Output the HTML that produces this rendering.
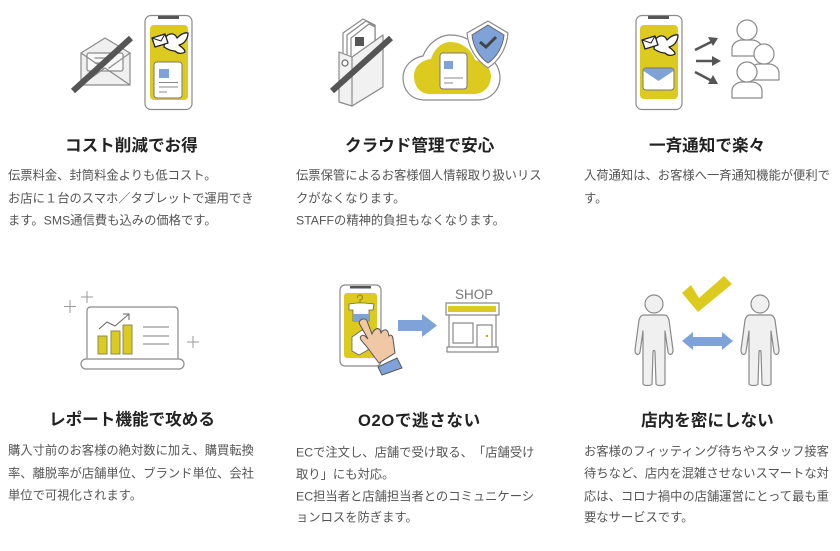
<!DOCTYPE html>
<html lang="ja"><head><meta charset="utf-8"><title>機能</title>
<style>
html,body{margin:0;padding:0;background:#fff}
svg{display:block}
text{font-family:"Liberation Sans","Noto Sans CJK JP",sans-serif;text-spacing-trim:space-all;font-feature-settings:"palt" 0}
.t{font-size:16.6px;font-weight:700;fill:#222}
.b{font-size:12.3px;fill:#555}
.o{stroke:#8a8a8a;stroke-width:1.2;stroke-linejoin:round;stroke-linecap:round}
.y{fill:#dccb1e}.bl{fill:#7fa3d9}
</style></head><body>
<svg width="840" height="551" viewBox="0 0 840 551" xmlns="http://www.w3.org/2000/svg">
<defs>
<g id="bird">
<path d="M165,38 C169,32 175,33 177,38 C180,35 184,32 188,33 C188,39 184,44 179,45 C181,47 185,49 185,52 C182,54 178,54 175,51 C171,51 167,49 164,47 Z" fill="#fff" stroke="#222" stroke-width="1.300" stroke-linejoin="round"/>
<path d="M152,38 L165,34 L168,43 L155,47 Z" fill="#fff" stroke="#222" stroke-width="1.300" stroke-linejoin="round"/>
<path d="M152,38 L161,41 L165,34" fill="none" stroke="#222" stroke-width="1"/>
</g>
<path id="person" d="M-10,315 C-13,315 -14,317 -15,320 L-19,350 C-19,355 -15,356 -14,352 L-11,331 L-11,384 C-10,386 -3,386 -2,384 L-1,352 C-1,350 1,350 1,352 L2,384 C3,386 10,386 11,384 L11,331 L14,352 C15,356 19,355 19,350 L15,320 C14,317 13,315 10,315 Z"/>
<path id="bust" d="M-15,16 L-15,9 C-15,3 -9,0 -5,0 L5,0 C9,0 15,3 15,9 L15,16 Z" fill="#fff" class="o"/>
</defs>

<!-- Icon 1 -->
<g class="o" fill="#efefef">
<path d="M81,53 L105,38 L130,53 L130,85 L81,85 Z" fill="#f0f0f0"/>
<rect x="87" y="53" width="36" height="18" rx="2" fill="#f8f8f8"/>
<path d="M81,85 L105,68 L130,85 M81,53 L103,68 M130,53 L109,68" fill="none"/>
<path d="M95,58 H113 M95,63 H106" fill="none"/>
</g>
<line x1="73" y1="91" x2="131" y2="38" stroke="#555" stroke-width="6"/>
<rect x="145" y="15.500" width="47" height="94" rx="6" fill="#fff" class="o"/>
<rect x="158" y="16" width="21" height="3" fill="#555"/>
<rect x="150" y="25" width="38" height="75" rx="4" class="y"/>
<use href="#bird"/>
<rect x="154" y="62" width="28" height="36" rx="3" fill="#fff" stroke="#777" stroke-width="1"/>
<rect x="159" y="69" width="10" height="9" class="bl"/>
<path d="M159,82.500 H178 M159,87 H178 M159,92 H167" stroke="#888" stroke-width="1"/>

<!-- Icon 2 -->
<g class="o" fill="#fff">
<path d="M343,33 L363,19 L375,25 L375,50 L343,70 Z"/>
<path d="M347,35 L366,21 L375,26 L375,50 L347,70 Z"/>
<path d="M351,38 L369,24 L375,27 L375,50 L351,70 Z"/>
<path d="M339,52 L352,57 L383,35 L383,87 L352,106 L339,102 Z" fill="#f1f1f1"/>
<path d="M352,57 L352,106" fill="none"/>
</g>
<rect x="355" y="37" width="9" height="9" fill="#555"/>
<circle cx="345" cy="63" r="3" fill="#fff" stroke="#666" stroke-width="1.200"/>
<line x1="332" y1="91" x2="391" y2="38" stroke="#555" stroke-width="6"/>
<path d="M425,100 C411,100 403,90 403,78 C403,66 412,58 423,56 C428,43 440,35 450,35 C465,35 475,42 480,52 C492,56 500,66 500,78 C500,90 490,100 478,100 Z" fill="#fff" class="o"/>
<path d="M430,94 C420,94 414,86 414,76 C414,66 422,60 431,59 C434,49 442,42 450,42 C462,42 472,50 475,60 C484,62 491,68 491,76 C491,86 484,94 474,94 Z" class="y"/>
<rect x="440" y="53" width="27" height="36" rx="3" fill="#fff" stroke="#777" stroke-width="1"/>
<rect x="444" y="61" width="9" height="8" class="bl"/>
<path d="M444,78 H463 M444,83 H453" stroke="#888" stroke-width="1"/>
<path d="M488,21 L508,33 C507,47 500,60 488,68 C476,60 468,47 467,33 Z" fill="#fff" class="o"/>
<path d="M488,25 L504,35 C503,46 497,57 488,63 C479,57 473,46 472,35 Z" class="bl" stroke="#666" stroke-width="1"/>
<path d="M480,42 L486,47 L496,37" fill="none" stroke="#444" stroke-width="3"/>

<!-- Icon 3 -->
<rect x="636" y="15.500" width="46" height="94" rx="6" fill="#fff" class="o"/>
<rect x="648" y="16" width="21" height="3" fill="#555"/>
<rect x="640" y="25" width="38" height="74" rx="4" class="y"/>
<use href="#bird" transform="translate(490,2)"/>
<rect x="643" y="68" width="31" height="22" rx="3" fill="#fff" stroke="#777" stroke-width="1"/>
<path d="M643.500,71 C643.500,69 645,68.500 646,68.500 H671 C672,68.500 673.500,69 673.500,71 L658.500,81 Z" class="bl"/>
<g stroke="#555" stroke-width="2.500" fill="none"><path d="M695,50 L713,41"/><path d="M696,61 L715,61"/><path d="M695,72 L712,81"/></g>
<g fill="#555"><path d="M718,38 L708,37 L713,46 Z"/><path d="M721,61 L712,56 L712,66 Z"/><path d="M718,84 L713,75 L708,84 Z"/></g>
<use href="#bust" x="747" y="40"/>
<circle cx="747" cy="30" r="10" fill="#fff" class="o"/>
<use href="#bust" x="764" y="64"/>
<circle cx="764" cy="54" r="10" fill="#fff" class="o"/>
<use href="#bust" x="747" y="82"/>
<circle cx="747" cy="72" r="10" fill="#fff" class="o"/>

<!-- Icon 4 -->
<path d="M87,358 V311 Q87,307 91,307 H174 Q178,307 178,311 V358" fill="#fff" class="o"/>
<rect x="81" y="359" width="103" height="10" rx="5" fill="#fff" class="o"/>
<g class="y" stroke="#8a8a60" stroke-width="1"><rect x="98" y="336" width="9" height="18"/><rect x="111" y="331" width="9" height="23"/><rect x="123" y="325" width="9" height="29"/></g>
<path d="M99,329 L107,322 L115,326 L129,314 M123,314 H129 V320" fill="none" stroke="#666" stroke-width="1"/>
<path d="M143,327 H169 M143,336 H169 M143,344 H169" stroke="#999" stroke-width="1.200"/>
<path d="M64,306.500 H76 M70,300 V313 M81,297 H93 M87,291 V303 M187,342 H199 M193,336 V348" stroke="#999" stroke-width="1"/>

<!-- Icon 5 -->
<rect x="340" y="285" width="41" height="81" rx="5" fill="#fff" class="o"/>
<rect x="350" y="286" width="21" height="2.500" fill="#555"/>
<rect x="344" y="293" width="33" height="65" rx="3" class="y"/>
<path d="M349,304 L357,303 H364 L374,304 L373,310 L369,310 V321 H353 V310 L349,310 Z" fill="#fff" stroke="#666" stroke-width=".8"/>
<rect x="353" y="314" width="16" height="7" class="bl"/>
<path d="M360,303 V300 A2.500,2.500 0 1 0 357.500,298" fill="none" stroke="#8a8410" stroke-width="1"/>
<path d="M352,337 L362,330 L368,334 V350 L359,355 L352,351 Z" fill="#fff" stroke="#666" stroke-width=".8"/>
<path d="M359,323 C360,318 366,318 367,321 L372,334 C374,329 378,327 380,330 L381,333 C383,329 387,329 388,332 L389,336 C391,334 393,336 393,339 L395,353 L379,363 C375,358 371,352 367,347 L361,340 C359,337 362,334 365,336 L368,339 Z" fill="#f1c8a6" stroke="#555" stroke-width="1"/>
<path d="M378,367 L397,358 L402,368 L382,375 Z" class="bl" stroke="#555" stroke-width="1"/>
<path d="M398,320 H422 V314 L437,325.500 L422,337 V331 H398 Z" class="bl"/>
<text x="455" y="299" style="font-size:13.500px;fill:#777">SHOP</text>
<rect x="446" y="303" width="53" height="12" fill="#fff" class="o"/>
<rect x="448" y="306" width="48" height="6" class="y"/>
<path d="M449,315 V347 M496,315 V347" class="o"/>
<rect x="447" y="347" width="51" height="5" fill="#fff" class="o"/>
<rect x="453" y="323" width="20" height="20" fill="#fff" class="o"/>
<rect x="477" y="325" width="15" height="22" fill="#fff" class="o"/>
<circle cx="487" cy="336" r="1.200" fill="#b9b214"/>

<!-- Icon 6 -->
<circle cx="654" cy="304" r="9" fill="#f0f0f0" class="o"/>
<use href="#person" x="654" fill="#f0f0f0" class="o"/>
<circle cx="760" cy="304" r="9" fill="#f0f0f0" class="o"/>
<use href="#person" x="760" fill="#f0f0f0" class="o"/>
<path d="M682,293 L691,285 L699,298 L724,276 L732,284 L698,312 Z" class="y"/>
<path d="M682,341 L693,332 V337 H722 V332 L733,341 L722,350 V346 H693 V350 Z" class="bl"/>

<!-- Titles -->
<text class="t" x="65" y="151">コスト削減でお得</text>
<text class="t" x="345" y="151">クラウド管理で安心</text>
<text class="t" x="649" y="151">一斉通知で楽々</text>
<text class="t" x="49" y="425">レポート機能で攻める</text>
<text class="t" x="358" y="426" letter-spacing=".6">O2Oで逃さない</text>
<text class="t" x="641" y="426">店内を密にしない</text>

<!-- Bodies -->
<text class="b" x="8" y="179.500">伝票料金、封筒料金よりも低コスト。</text>
<text class="b" x="8" y="202.500">お店に１台のスマホ／タブレットで運用でき</text>
<text class="b" x="8" y="224.500">ます。SMS通信費も込みの価格です。</text>

<text class="b" x="296" y="179.500">伝票保管によるお客様個人情報取り扱いリス</text>
<text class="b" x="296" y="202.500">クがなくなります。</text>
<text class="b" x="296" y="224.500">STAFFの精神的負担もなくなります。</text>

<text class="b" x="584" y="179.500">入荷通知は、お客様へ一斉通知機能が便利で</text>
<text class="b" x="584" y="202.500">す。</text>

<text class="b" x="8" y="454.500">購入寸前のお客様の絶対数に加え、購買転換</text>
<text class="b" x="8" y="477.500">率、離脱率が店舗単位、ブランド単位、会社</text>
<text class="b" x="8" y="499.500">単位で可視化されます。</text>

<text class="b" x="296" y="456.500">ECで注文し、店舗で受け取る、「店舗受け</text>
<text class="b" x="296" y="478.500">取り」にも対応。</text>
<text class="b" x="296" y="500.500">EC担当者と店舗担当者とのコミュニケーシ</text>
<text class="b" x="296" y="521.500">ョンロスを防ぎます。</text>

<text class="b" x="584" y="455.500">お客様のフィッティング待ちやスタッフ接客</text>
<text class="b" x="584" y="477.500">待ちなど、店内を混雑させないスマートな対</text>
<text class="b" x="584" y="500.500">応は、コロナ禍中の店舗運営にとって最も重</text>
<text class="b" x="584" y="521.500">要なサービスです。</text>
</svg>
</body></html>
